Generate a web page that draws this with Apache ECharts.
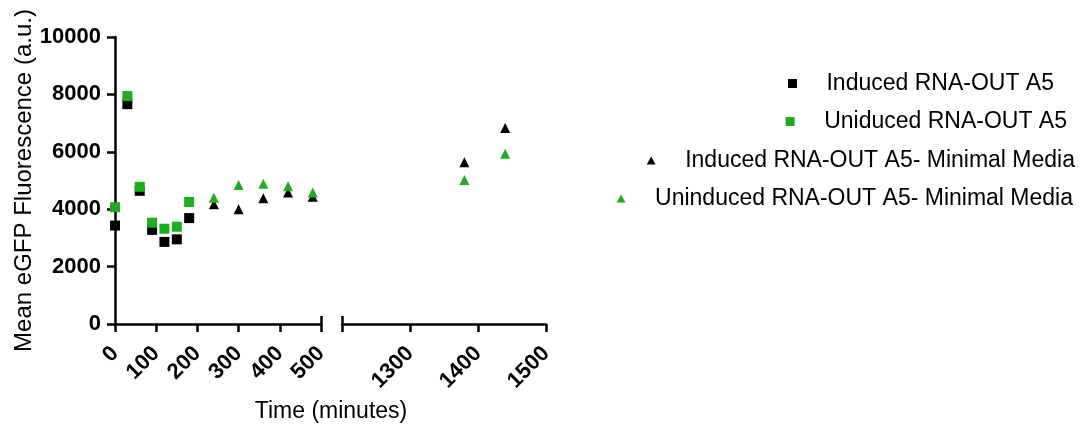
<!DOCTYPE html>
<html>
<head>
<meta charset="utf-8">
<script src="https://cdn.jsdelivr.net/npm/echarts@6/dist/echarts.min.js"></script>
<style>
html,body{margin:0;padding:0;background:#fff;}
#chart{width:1082px;height:430px;}
</style>
</head>
<body>
<div id="chart"></div>
<script>
// ---- data ----
const seriesNames = ['Induced RNA-OUT A5', 'Uniduced RNA-OUT A5', 'Induced RNA-OUT A5- Minimal Media', 'Uninduced RNA-OUT A5- Minimal Media'];
const timesA = [0, 30, 60, 90, 120, 150, 180];
const induced = [3430, 7660, 4640, 3280, 2860, 2950, 3690];
const uninduced = [4070, 7940, 4780, 3530, 3320, 3390, 4250];
const timesB = [240, 300, 360, 420, 480, 1380, 1440];
const inducedMM = [4170, 4000, 4380, 4580, 4430, 5640, 6830];
const uninducedMM = [4400, 4840, 4890, 4800, 4580, 5020, 5930];
const yTicks = [0, 2000, 4000, 6000, 8000, 10000];
const xTicksLeft = [0, 100, 200, 300, 400, 500];
const xTicksRight = [1300, 1400, 1500];
const xTitle = 'Time (minutes)';
const yTitle = 'Mean eGFP Fluorescence (a.u.)';

const BLACK = '#000000';
const GREEN = '#1cae1c';
const FONT = 'Arial, "Liberation Sans", sans-serif';
const BREAK = 500;
const RIGHT_START = 1200;

function pairs(xs, ys, left) {
  const out = [];
  xs.forEach((x, i) => { if ((x <= BREAK) === left) out.push([x, ys[i]]); });
  return out;
}

const chart = echarts.init(document.getElementById('chart'), null, {renderer: 'canvas'});

const axisLineStyle = {color: BLACK, width: 2.5};
const tickLabel = {color: BLACK, fontSize: 22, fontWeight: 'bold', fontFamily: FONT};

const grids = [
  {left: 115, top: 37, width: 206, height: 287},
  {left: 342, top: 37, width: 204, height: 287}
];

const yAxes = [
  {
    type: 'value', gridIndex: 0, min: yTicks[0], max: yTicks[yTicks.length - 1], interval: yTicks[1] - yTicks[0],
    axisLine: {show: true, lineStyle: axisLineStyle},
    axisTick: {show: true, length: 8, lineStyle: axisLineStyle},
    axisLabel: Object.assign({margin: 14, formatter: v => String(v)}, tickLabel),
    splitLine: {show: false},
    name: yTitle, nameLocation: 'middle', nameGap: 78, nameRotate: 90,
    nameTextStyle: {color: BLACK, fontSize: 24, fontFamily: FONT}
  },
  {
    type: 'value', gridIndex: 1, min: yTicks[0], max: yTicks[yTicks.length - 1], interval: yTicks[1] - yTicks[0],
    show: false, splitLine: {show: false}
  }
];

const xLabelBase = {rotate: 45, margin: 26};

const xAxes = [
  {
    type: 'value', gridIndex: 0, position: 'bottom', min: xTicksLeft[0], max: xTicksLeft[xTicksLeft.length - 1], interval: xTicksLeft[1] - xTicksLeft[0],
    axisLine: {show: true, lineStyle: axisLineStyle, onZero: false},
    axisTick: {show: true, length: 8, lineStyle: axisLineStyle},
    axisLabel: Object.assign({showMinLabel: true, showMaxLabel: true, formatter: v => String(v)}, xLabelBase, tickLabel),
    splitLine: {show: false}
  },
  {
    type: 'value', gridIndex: 1, position: 'bottom', min: RIGHT_START, max: xTicksRight[xTicksRight.length - 1], interval: 100,
    axisLine: {show: true, lineStyle: axisLineStyle, onZero: false},
    axisTick: {show: true, length: 8, lineStyle: axisLineStyle},
    axisLabel: Object.assign({showMaxLabel: true,
      formatter: v => (xTicksRight.indexOf(v) >= 0 ? String(v) : '')}, xLabelBase, tickLabel),
    splitLine: {show: false}
  },
  // overlay axes: inward caps at the axis break
  {
    type: 'value', gridIndex: 0, position: 'bottom', min: xTicksLeft[0], max: BREAK,
    axisLine: {show: false, onZero: false}, axisLabel: {show: false}, splitLine: {show: false},
    axisTick: {show: true, inside: true, length: 8, lineStyle: axisLineStyle, customValues: [BREAK]}
  },
  {
    type: 'value', gridIndex: 1, position: 'bottom', min: RIGHT_START, max: xTicksRight[xTicksRight.length - 1],
    axisLine: {show: false, onZero: false}, axisLabel: {show: false}, splitLine: {show: false},
    axisTick: {show: true, inside: true, length: 8, lineStyle: axisLineStyle, customValues: [RIGHT_START]}
  }
];

function sc(name, grid, symbol, size, color, data) {
  return {
    type: 'scatter', name: name, xAxisIndex: grid, yAxisIndex: grid,
    symbol: symbol, symbolSize: size, data: data,
    itemStyle: {color: color, opacity: 1}, emphasis: {disabled: true}
  };
}

const series = [
  sc(seriesNames[0], 0, 'rect', 10, BLACK, pairs(timesA, induced, true)),
  sc(seriesNames[1], 0, 'rect', 10, GREEN, pairs(timesA, uninduced, true)),
  sc(seriesNames[2], 0, 'triangle', 10, BLACK, pairs(timesB, inducedMM, true)),
  sc(seriesNames[2], 1, 'triangle', 10, BLACK, pairs(timesB, inducedMM, false)),
  sc(seriesNames[3], 0, 'triangle', 10, GREEN, pairs(timesB, uninducedMM, true)),
  sc(seriesNames[3], 1, 'triangle', 10, GREEN, pairs(timesB, uninducedMM, false))
];

const SQ = 'path://M0 0H10V10H0Z';
const TRI = 'path://M5 0L10 9H0Z';
const legendTops = [72, 110, 149, 187];
const legendRights = [28, 15, 7, 9];
const legendIcons = [SQ, SQ, TRI, TRI];
const legendIconH = [9, 9, 8, 8];
const legends = seriesNames.map((n, i) => ({
  data: [{name: n, icon: legendIcons[i]}],
  top: legendTops[i], right: legendRights[i], padding: 0,
  itemWidth: 58, itemHeight: legendIconH[i], symbolKeepAspect: true,
  selectedMode: false,
  textStyle: {color: BLACK, fontSize: 23, fontFamily: FONT}
}));

chart.setOption({
  animation: false,
  backgroundColor: '#ffffff',
  textStyle: {fontFamily: FONT},
  title: {
    text: xTitle, left: 331, top: 400, textAlign: 'center', padding: 0,
    textStyle: {color: BLACK, fontSize: 23, fontWeight: 'normal', fontFamily: FONT}
  },
  legend: legends,
  grid: grids,
  xAxis: xAxes,
  yAxis: yAxes,
  series: series
});
</script>
</body>
</html>
